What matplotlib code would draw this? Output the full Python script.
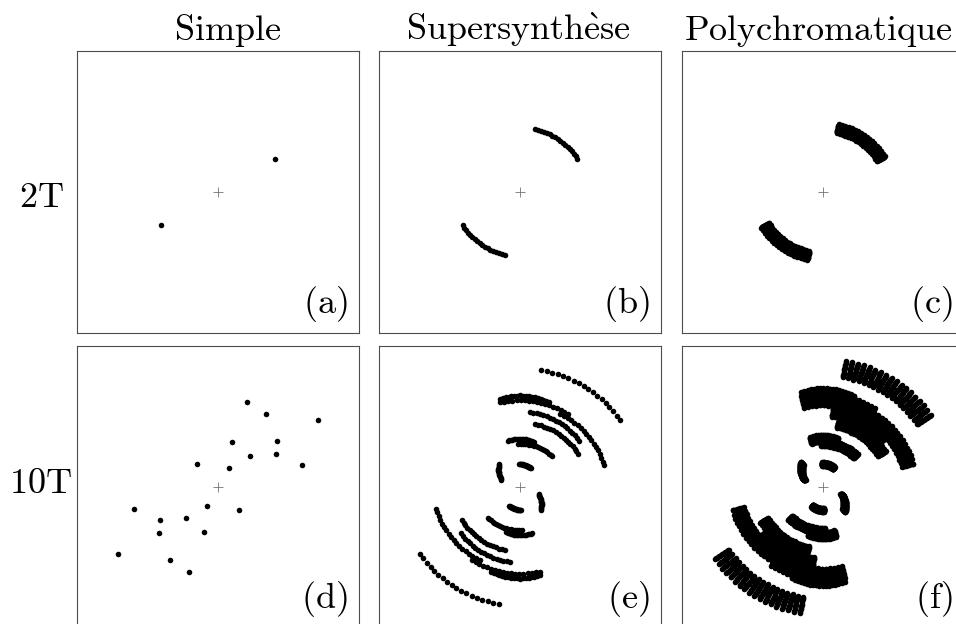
import matplotlib.pyplot as plt
import numpy as np

plt.rcParams["mathtext.fontset"] = "cm"

# texts
col_titles = [r"$\mathrm{Simple}$", r"$\mathrm{Supersynth\grave{e}se}$",
              r"$\mathrm{Polychromatique}$"]
row_titles = [r"$\mathrm{2T}$", r"$\mathrm{10T}$"]
panel_tags = ["(a)", "(b)", "(c)", "(d)", "(e)", "(f)"]

# baselines (X, Y, Z), same units as the uv plane
bx_2t = [-33.5]
by_2t = [57.3]
bz_2t = [3.8]

bx_10t = [-54.1, -72.1, -63.9, -29.2, -41.7, -32.3, -33.5, -6.0, -11.4, -22.8]
by_10t = [28.7, 48.0, 99.7, 13.7, 59.0, 32.3, 58.0, -20.7, 10.7, 83.7]
bz_10t = [106.7, 14.4, 19.2, 56.4, 21.5, 0.0, 3.8, 56.4, 25.3, 0.0]

declination = 71.8                        # deg
hour_angles = np.linspace(0.0, 47.0, 18)  # deg, observing run
lambda_ratio = np.linspace(0.94, 1.08, 15)  # lambda0 / lambda

LIM = 141


def uv_points(bx, by, bz, ha_deg, ratios=(1.0,)):
    h = np.radians(np.atleast_1d(ha_deg))[:, None]
    d = np.radians(declination)
    bx, by, bz = np.asarray(bx), np.asarray(by), np.asarray(bz)
    u = bx * np.sin(h) + by * np.cos(h)
    v = np.sin(d) * (-bx * np.cos(h) + by * np.sin(h)) + np.cos(d) * bz
    r = np.asarray(ratios)[:, None, None]
    u = (u[None] * r).ravel()
    v = (v[None] * r).ravel()
    return np.concatenate([u, -u]), np.concatenate([v, -v])


W, H = 956, 624
fig = plt.figure(figsize=(W / 100, H / 100), dpi=100)

col_left = [77, 379, 682]
row_top = [51, 346]
size = 282
title_x = [0.535, 0.496, 0.482]

configs = [(bx_2t, by_2t, bz_2t), (bx_10t, by_10t, bz_10t)]

k = 0
for i, (bx, by, bz) in enumerate(configs):
    for j in range(3):
        ax = fig.add_axes([col_left[j] / W, 1 - (row_top[i] + size) / H,
                           size / W, size / H])
        if j == 0:
            u, v = uv_points(bx, by, bz, 0.0)
        elif j == 1:
            u, v = uv_points(bx, by, bz, hour_angles)
        else:
            u, v = uv_points(bx, by, bz, hour_angles, lambda_ratio)
        ax.scatter(u, v, s=16, c="black", linewidths=0, zorder=2)
        ax.plot(0, 0, "+", color="0.45", ms=7.5, mew=0.6, zorder=3)
        ax.set_xlim(-LIM, LIM)
        ax.set_ylim(-LIM, LIM)
        ax.set_xticks([])
        ax.set_yticks([])
        for sp in ax.spines.values():
            sp.set_color("0.3")
            sp.set_linewidth(0.8)
        ax.text(1 - 11 / size, 20 / size, r"$\mathrm{%s}$" % panel_tags[k],
                transform=ax.transAxes, ha="right", va="baseline", fontsize=26)
        if i == 0:
            ax.set_title(col_titles[j], fontsize=26, pad=8, x=title_x[j])
        k += 1

fig.text(41 / W, 1 - 207 / H, row_titles[0], ha="center", va="baseline",
         fontsize=26)
fig.text(40 / W, 1 - 493 / H, row_titles[1], ha="center", va="baseline",
         fontsize=26)

fig.savefig("out.png", dpi=100)
